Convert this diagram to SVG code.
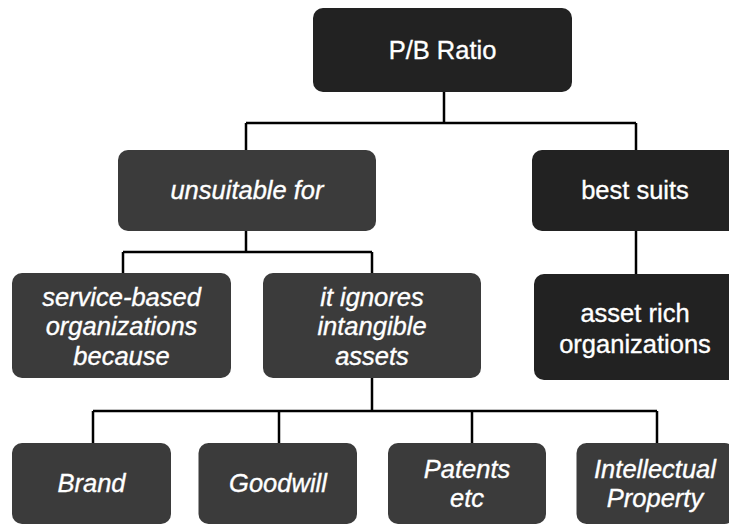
<svg xmlns="http://www.w3.org/2000/svg" width="729" height="525" viewBox="0 0 729 525">
<style>
.d{fill:#222222}
.m{fill:#3b3b3b}
text{font-family:"Liberation Sans",Arial,sans-serif;font-size:25.5px;fill:#ffffff;stroke:#ffffff;stroke-width:0.35;text-anchor:middle}
.i{font-style:italic}
.c{fill:none;stroke:#000;stroke-width:2.5}
</style>
<rect width="729" height="525" fill="#ffffff"/>
<g id="connectors">
<path class="c" d="M444 92V123M246 123H636M246 123V150M636 123V150"/>
<path class="c" d="M246 231V252M123 252H372M123 252V273M372 252V273"/>
<path class="c" d="M636 231V274"/>
<path class="c" d="M372 378V411M93 411H657M93 411V443M279 411V443M472 411V443M657 411V443"/>
</g>
<g id="pb"><rect class="d" x="313" y="8" width="259" height="84" rx="10"/><text x="442.5" y="59">P/B Ratio</text></g>
<g id="unsuitable"><rect class="m" x="118" y="150" width="258" height="81" rx="10"/><text class="i" x="247" y="199">unsuitable for</text></g>
<g id="best"><rect class="d" x="532" y="150" width="206" height="81" rx="10"/><text x="635" y="199">best suits</text></g>
<g id="service"><rect class="m" x="12" y="273" width="219" height="105" rx="10"/><text class="i" x="121.5" y="305.5">service-based</text><text class="i" x="121.5" y="335">organizations</text><text class="i" x="121.5" y="364.5">because</text></g>
<g id="ignores"><rect class="m" x="263" y="273" width="218" height="105" rx="10"/><text class="i" x="372" y="305.5">it ignores</text><text class="i" x="372" y="335">intangible</text><text class="i" x="372" y="364.5">assets</text></g>
<g id="asset"><rect class="d" x="534" y="274" width="204" height="106" rx="10"/><text x="635" y="322">asset rich</text><text x="635" y="353">organizations</text></g>
<g id="brand"><rect class="m" x="12" y="443" width="159" height="81" rx="10"/><text class="i" x="91.5" y="492">Brand</text></g>
<g id="goodwill"><rect class="m" x="198.5" y="443" width="158.5" height="81" rx="10"/><text class="i" x="278" y="492">Goodwill</text></g>
<g id="patents"><rect class="m" x="388" y="443" width="158" height="81" rx="10"/><text class="i" x="467" y="477.5">Patents</text><text class="i" x="467" y="507">etc</text></g>
<g id="ip"><rect class="m" x="576.5" y="443" width="158" height="81" rx="10"/><text class="i" x="655" y="477.5">Intellectual</text><text class="i" x="655" y="507">Property</text></g>
</svg>
